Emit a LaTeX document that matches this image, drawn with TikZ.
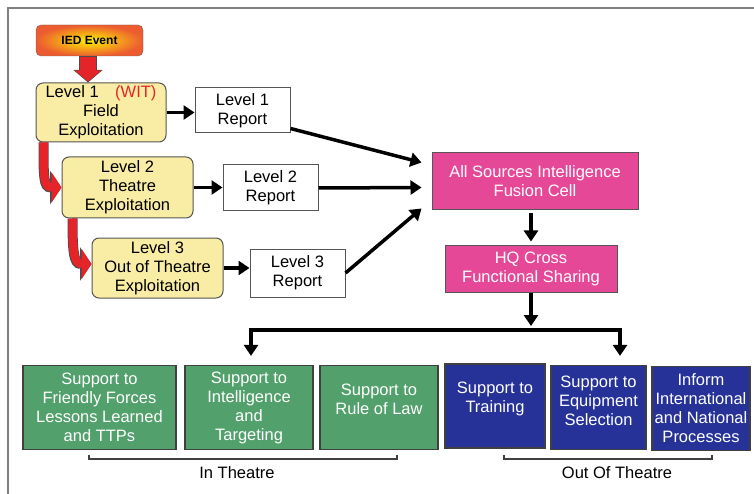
\documentclass[tikz,border=0pt]{standalone}
\usepackage{fontspec}
\setmainfont{Liberation Sans}
\usetikzlibrary{arrows.meta,calc}

\definecolor{lvlyellow}{RGB}{249,237,165}
\definecolor{fusionpink}{RGB}{230,72,152}
\definecolor{supgreen}{RGB}{82,160,108}
\definecolor{supblue}{RGB}{38,50,152}
\definecolor{boxline}{RGB}{85,85,85}
\definecolor{iedred}{RGB}{228,36,40}
\definecolor{iedorange}{RGB}{236,92,48}

\tikzset{
  txt/.style={font=\fontsize{16.5}{19}\selectfont},
  lvlbox/.style={txt, draw=boxline, fill=lvlyellow, rounded corners=7pt, line width=1pt,
    align=center, inner sep=1pt, minimum width=131pt, minimum height=60pt},
  repbox/.style={txt, draw=boxline, fill=white, line width=1pt, align=center,
    inner sep=1pt, minimum width=95pt, minimum height=46pt},
  pinkbox/.style={txt, draw=boxline, fill=fusionpink, text=white, line width=1pt,
    align=center, inner sep=1pt},
  supbox/.style={txt, draw=black!75, line width=1.2pt, text=white, align=center,
    inner sep=1pt, minimum height=84pt},
  greenbox/.style={supbox, fill=supgreen},
  bluebox/.style={supbox, fill=supblue},
  blkarrow/.style={line width=3.5pt, -{Triangle[width=14pt,length=11pt]}},
  redcurve/.style={line width=8.5pt, iedred, -{Triangle[width=30pt,length=10pt]},
    preaction={draw=black!70, line width=10pt, -{Triangle[width=33pt,length=11.5pt]}}},
  brack/.style={line width=1.2pt, black!75},
}

\begin{document}
\begin{tikzpicture}[x=1pt,y=-1pt]
\useasboundingbox (0,0) rectangle (754,494);

% frame
\draw[gray, line width=1.6pt] (8,494) -- (8,8) -- (754,8);

% event and exploitation levels
\node[draw=black!60, rounded corners=5pt, inner color=yellow!90!orange, outer color=iedorange,
  minimum width=107pt, minimum height=31pt, font=\bfseries\fontsize{12}{14}\selectfont] (ied) at (89.5,40.5) {IED Event};

\node[lvlbox, minimum width=130pt, minimum height=59pt] (l1) at (101,112.5) {Level 1\quad{\color{iedred}(WIT)}\\Field\\Exploitation};
\node[lvlbox, minimum height=61pt] (l2) at (127.5,187.5) {Level 2\\Theatre\\Exploitation};
\node[lvlbox] (l3) at (157.5,268) {Level 3\\Out of Theatre\\Exploitation};

\node[repbox, minimum height=45pt] (r1) at (242.5,110.5) {Level 1\\Report};
\node[repbox] (r2) at (270.5,188) {Level 2\\Report};
\node[repbox, minimum height=48pt] (r3) at (297.5,273) {Level 3\\Report};

% fusion and sharing
\node[pinkbox, minimum width=206pt, minimum height=57pt] (fusion) at (535,181.5) {All Sources Intelligence\\Fusion Cell};
\node[pinkbox, minimum width=172pt, minimum height=47pt] (hq) at (531,268.5) {HQ Cross\\Functional Sharing};

% support boxes
\node[greenbox, minimum width=153pt] (s1) at (99.5,407.5) {Support to\\Friendly Forces\\Lessons Learned\\and TTPs};
\node[greenbox, minimum width=128pt] (s2) at (249,407.5) {Support to\\Intelligence\\and\\Targeting};
\node[greenbox, minimum width=118pt, text depth=16pt] (s3) at (379,407.5) {Support to\\Rule of Law};
\node[bluebox, minimum width=100pt, text depth=17pt] (s4) at (495,406) {Support to\\Training};
\node[bluebox, minimum width=95pt, text depth=14pt] (s5) at (598.5,407.5) {Support to\\Equipment\\Selection};
\node[bluebox, minimum width=98pt] (s6) at (701,408.5) {Inform\\International\\and National\\Processes};

% red arrows
\draw[line width=17.5pt, black!70, -{Triangle[width=28.5pt,length=12.5pt]}] ([xshift=-1.5pt]ied.south) -- ([xshift=-13pt]l1.north);
\draw[line width=16pt, iedred, -{Triangle[width=26pt,length=11pt]}] ([xshift=-1.5pt,yshift=-1pt]ied.south) -- ([xshift=-13pt,yshift=1pt]l1.north);
\draw[redcurve] ([xshift=8pt]l1.south west) .. controls +(0,34) and +(-18,0) .. (l2.west);
\draw[redcurve] ([xshift=11pt]l2.south west) .. controls +(0,32) and +(-18,0) .. ([yshift=4pt]l3.west);

% reports
\draw[blkarrow] (l1.east) -- (l1.east -| r1.west);
\draw[blkarrow] (l2.east) -- (l2.east -| r2.west);
\draw[blkarrow] (l3.east) -- (l3.east -| r3.west);

\draw[blkarrow] ([yshift=5pt]r1.south east) -- ([xshift=-10pt,yshift=19pt]fusion.west);
\draw[blkarrow] (r2.east) -- ([xshift=-10pt,yshift=-6pt]fusion.west);
\draw[blkarrow] (r3.east) -- ([xshift=-10pt,yshift=-27pt]fusion.west);

\draw[blkarrow, line width=4.5pt, shorten <=3pt, shorten >=3pt] (hq.north |- fusion.south) -- (hq.north);

% distribution
\coordinate (barL) at (251,330);
\coordinate (barR) at (620,330);
\coordinate (barM) at (hq.south |- barL);
\draw[blkarrow, line width=4.5pt, shorten >=4pt] (hq.south) -- (barM);
\draw[line width=4pt, line join=miter, {Triangle[width=14pt,length=11pt]}-{Triangle[width=14pt,length=11pt]},
  shorten <=9pt, shorten >=9pt] (barL |- s2.north) -- (barL) -- (barR) -- (barR |- s5.north);

% groups
\draw[brack] (89,455) -- (89,459) -- (397,459) -- (397,455);
\node[txt] (inth) at (237,473) {In Theatre};
\draw[brack] (504,455) -- (504,459) -- (712,459) -- (712,455);
\node[txt] (outth) at (617,473) {Out Of Theatre};
\end{tikzpicture}
\end{document}
